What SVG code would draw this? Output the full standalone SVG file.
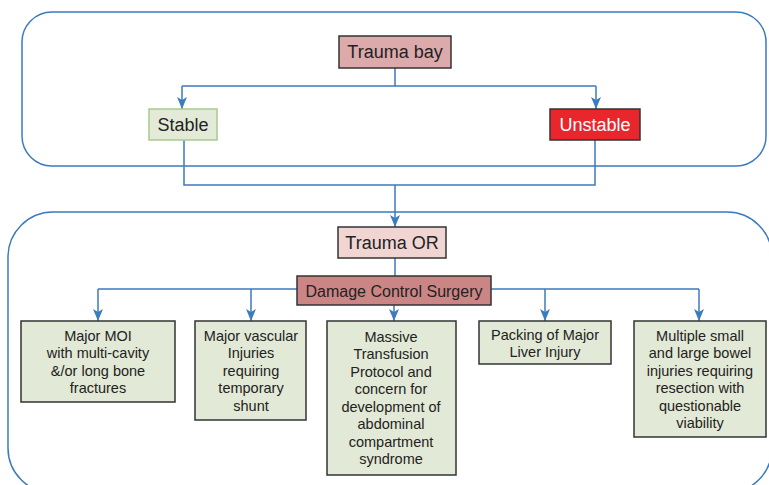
<svg xmlns="http://www.w3.org/2000/svg" width="769" height="485" viewBox="0 0 769 485">
<defs>
<marker id="ah" viewBox="0 0 12 10" markerWidth="12" markerHeight="10" refX="12" refY="5" orient="auto" markerUnits="userSpaceOnUse">
<path d="M0,0 L12,5 L0,10 L3,5 z" fill="#3b7bbf"/>
</marker>
<style>
.cont{fill:none;stroke:#3b7bbf;stroke-width:1.5}
.ln{fill:none;stroke:#3b7bbf;stroke-width:1.5}
.arr{fill:none;stroke:#3b7bbf;stroke-width:1.5;marker-end:url(#ah)}
.box{fill:#e2e9d6;stroke:#333;stroke-width:1.5}
text{font-family:"Liberation Sans",Arial,sans-serif;fill:#222;text-anchor:middle}
.big{font-size:18px}
.sm{font-size:14.5px}
</style>
</defs>
<rect class="cont" x="22" y="12" width="744" height="154" rx="30"/>
<rect class="cont" x="8" y="212" width="764" height="281" rx="45"/>
<g id="connectors">
<path class="ln" d="M395,68 V86 M182,86 H596"/>
<path class="arr" d="M182,86 V109"/>
<path class="arr" d="M596,86 V109"/>
<path class="ln" d="M184,140 V185 H595 V140"/>
<path class="arr" d="M395,185 V227"/>
<path class="ln" d="M395,258 V276"/>
<path class="ln" d="M98,289 H297 M491,289 H699"/>
<path class="arr" d="M98,289 V321"/>
<path class="arr" d="M251,289 V321"/>
<path class="arr" d="M394,305 V321"/>
<path class="arr" d="M545,289 V321"/>
<path class="arr" d="M699,289 V321"/>
</g>
<g id="trauma-bay">
<rect x="339" y="36" width="112" height="32" fill="#dcaaaa" stroke="#333" stroke-width="1.5"/>
<text class="big" x="395" y="58">Trauma bay</text>
</g>
<g id="stable">
<rect x="149" y="109" width="68" height="31" fill="#e3ead8" stroke="#a9c98f" stroke-width="1.5"/>
<text class="big" x="183" y="131">Stable</text>
</g>
<g id="unstable">
<rect x="550" y="109" width="90" height="31" fill="#e8262c" stroke="#333" stroke-width="1.5"/>
<text class="big" x="595" y="131" style="fill:#fff">Unstable</text>
</g>
<g id="trauma-or">
<rect x="338" y="227" width="108" height="31" fill="#f0d5d3" stroke="#333" stroke-width="1.5"/>
<text class="big" x="392" y="249">Trauma OR</text>
</g>
<g id="dcs">
<rect x="297" y="276" width="194" height="29" fill="#cc8585" stroke="#333" stroke-width="1.5"/>
<text x="394" y="296.5" style="font-size:16px">Damage Control Surgery</text>
</g>
<g id="box1">
<rect class="box" x="21" y="321" width="154" height="81"/>
<text class="sm" x="98"><tspan x="98" y="340.5">Major MOI</tspan><tspan x="98" y="358">with multi-cavity</tspan><tspan x="98" y="375.5">&amp;/or long bone</tspan><tspan x="98" y="393">fractures</tspan></text>
</g>
<g id="box2">
<rect class="box" x="195" y="321" width="111" height="99"/>
<text class="sm" x="251"><tspan x="251" y="340.5">Major vascular</tspan><tspan x="251" y="358">Injuries</tspan><tspan x="251" y="375.5">requiring</tspan><tspan x="251" y="393">temporary</tspan><tspan x="251" y="410.5">shunt</tspan></text>
</g>
<g id="box3">
<rect class="box" x="327" y="321" width="129" height="154"/>
<text class="sm" x="391"><tspan x="391" y="341.5">Massive</tspan><tspan x="391" y="359">Transfusion</tspan><tspan x="391" y="376.5">Protocol and</tspan><tspan x="391" y="394">concern for</tspan><tspan x="391" y="411.5">development of</tspan><tspan x="391" y="429">abdominal</tspan><tspan x="391" y="446.5">compartment</tspan><tspan x="391" y="464">syndrome</tspan></text>
</g>
<g id="box4">
<rect class="box" x="479" y="321" width="132" height="43"/>
<text class="sm" x="545"><tspan x="545" y="339.5">Packing of Major</tspan><tspan x="545" y="357">Liver Injury</tspan></text>
</g>
<g id="box5">
<rect class="box" x="634" y="321" width="132" height="116"/>
<text class="sm" x="700"><tspan x="700" y="340.5">Multiple small</tspan><tspan x="700" y="358">and large bowel</tspan><tspan x="700" y="375.5">injuries requiring</tspan><tspan x="700" y="393">resection with</tspan><tspan x="700" y="410.5">questionable</tspan><tspan x="700" y="428">viability</tspan></text>
</g>
</svg>
